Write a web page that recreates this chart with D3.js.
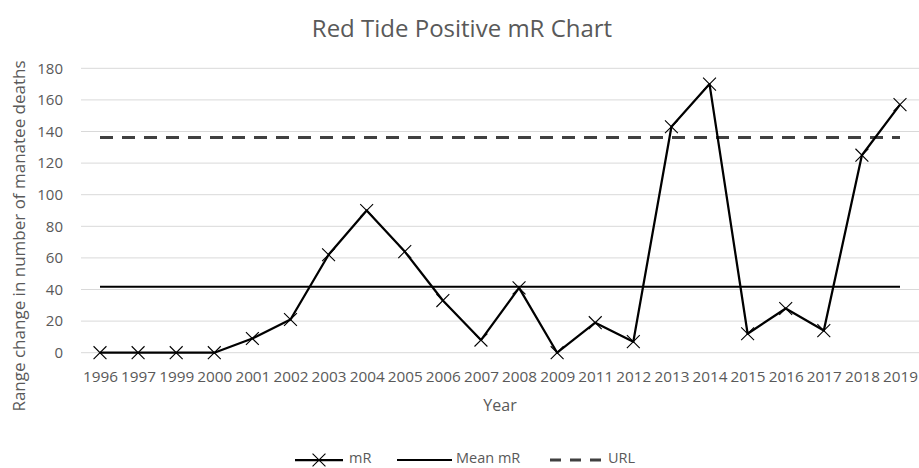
<!DOCTYPE html>
<html>
<head>
<meta charset="utf-8">
<script src="https://cdn.jsdelivr.net/npm/d3@7"></script>
<style>
  html, body { margin: 0; padding: 0; background: #fff; }
  svg { display: block; }
  text { font-family: "Open Sans", sans-serif; fill: #595959; }
</style>
</head>
<body>
<svg id="chart" width="919" height="468"></svg>
<script>
const years = ["1996","1997","1999","2000","2001","2002","2003","2004","2005","2006","2007","2008","2009","2011","2012","2013","2014","2015","2016","2017","2018","2019"];
const mR = [0,0,0,0,9,21,62,90,64,33,8,41,0,19,7,143,170,12,28,14,125,157];
const meanMR = 41.7;
const url = 136.2;
const yTicks = [0,20,40,60,80,100,120,140,160,180];
const title = "Red Tide Positive mR Chart";
const xTitle = "Year";
const yTitle = "Range change in number of manatee deaths";
const legendLabels = ["mR", "Mean mR", "URL"];

const svg = d3.select("#chart");
const plot = { left: 81, right: 919, top: 68.3, bottom: 352.7 };

const x = d3.scalePoint().domain(years).range([100, 900]);
const y = d3.scaleLinear().domain([0, 180]).range([plot.bottom, plot.top]);

// gridlines
svg.append("g").selectAll("line").data(yTicks).join("line")
  .attr("x1", plot.left).attr("x2", plot.right)
  .attr("y1", d => y(d)).attr("y2", d => y(d))
  .attr("stroke", "#d9d9d9").attr("stroke-width", 1);

// y axis labels
const yAxis = d3.axisLeft(y).tickValues(yTicks).tickSize(0).tickPadding(0);
const gy = svg.append("g").attr("transform", "translate(63,0)").call(yAxis);
gy.select(".domain").remove();
gy.selectAll("text").attr("font-size", 15).attr("fill", "#595959")
  .style("font-family", "'Open Sans', sans-serif");

// x axis labels
const xAxis = d3.axisBottom(x).tickSize(0).tickPadding(0);
const gx = svg.append("g").attr("transform", "translate(0,371)").call(xAxis);
gx.select(".domain").remove();
gx.selectAll("text").attr("font-size", 15.3).attr("fill", "#595959")
  .style("font-family", "'Open Sans', sans-serif");

// URL dashed
svg.append("line")
  .attr("x1", x(years[0])).attr("x2", x(years[years.length-1]))
  .attr("y1", y(url)).attr("y2", y(url))
  .attr("stroke", "#404040").attr("stroke-width", 3)
  .attr("stroke-dasharray", "13,9");

// mean line
svg.append("line")
  .attr("x1", x(years[0])).attr("x2", x(years[years.length-1]))
  .attr("y1", y(meanMR)).attr("y2", y(meanMR))
  .attr("stroke", "#000").attr("stroke-width", 2);

// mR line
const line = d3.line().x((d, i) => x(years[i])).y(d => y(d));
svg.append("path").datum(mR).attr("d", line)
  .attr("fill", "none").attr("stroke", "#000").attr("stroke-width", 2.25)
  .attr("stroke-linejoin", "round");

// X markers
const xMark = d3.symbol().type(d3.symbolX).size(110);
svg.append("g").selectAll("path").data(mR).join("path")
  .attr("transform", (d, i) => `translate(${x(years[i])},${y(d)})`)
  .attr("d", xMark)
  .attr("fill", "none").attr("stroke", "#000").attr("stroke-width", 1.1);

// title
svg.append("text").attr("x", 462).attr("y", 37).attr("text-anchor", "middle")
  .attr("font-size", 24).text(title);

// axis titles
svg.append("text").attr("x", 500).attr("y", 411).attr("text-anchor", "middle")
  .attr("font-size", 16).text(xTitle);
svg.append("text").attr("transform", "translate(25,236) rotate(-90)")
  .attr("text-anchor", "middle").attr("font-size", 17).text(yTitle);

// legend
const ly = 460;
const lg = svg.append("g");
lg.append("line").attr("x1", 295).attr("x2", 343).attr("y1", ly).attr("y2", ly)
  .attr("stroke", "#000").attr("stroke-width", 2.25);
lg.append("path").attr("transform", `translate(319,${ly})`).attr("d", xMark)
  .attr("fill", "none").attr("stroke", "#000").attr("stroke-width", 1.1);
lg.append("text").attr("x", 349).attr("y", ly + 3).attr("font-size", 14.5).text(legendLabels[0]);
lg.append("line").attr("x1", 397).attr("x2", 452).attr("y1", ly).attr("y2", ly)
  .attr("stroke", "#000").attr("stroke-width", 2);
lg.append("text").attr("x", 456).attr("y", ly + 3).attr("font-size", 14.5).text(legendLabels[1]);
lg.append("line").attr("x1", 550).attr("x2", 603).attr("y1", ly).attr("y2", ly)
  .attr("stroke", "#404040").attr("stroke-width", 3).attr("stroke-dasharray", "11,9");
lg.append("text").attr("x", 608).attr("y", ly + 3).attr("font-size", 14.5).text(legendLabels[2]);
</script>
</body>
</html>
